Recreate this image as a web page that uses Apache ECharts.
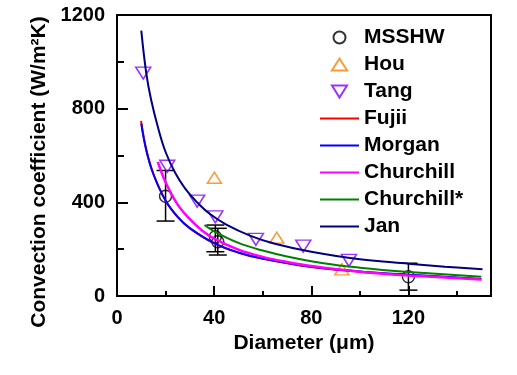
<!DOCTYPE html>
<html>
<head>
<meta charset="utf-8">
<script src="https://cdn.jsdelivr.net/npm/echarts@6/dist/echarts.min.js"></script>
<style>
  html, body { margin: 0; padding: 0; background: #fff; }
</style>
</head>
<body>
<div id="chart" style="width:517px;height:375px"></div>
<script>
// measured points (diameter um, h W/m2K)
var msshwD = [20, 40.5, 41.5, 120];
var msshwH = [426, 253, 232, 82];
var msshwLo = [320, 189, 175, 25];
var msshwHi = [536, 303, 289, 140];

var houD = [40.1, 65.8, 92.6];
var houH = [505, 249, 114];

var tangD = [10.8, 20.7, 33, 40.5, 57.2, 76.7, 95.5];
var tangH = [952, 554, 405, 338, 242, 213, 152];

// correlation curves
var fujiiD = [9.9, 12, 15, 20, 25, 30, 40, 50, 60, 80, 100, 120, 150];
var fujiiH = [748, 628, 521, 407, 337, 289, 225, 185, 159, 124, 104, 90, 72];

var morganD = [10, 12, 15, 20, 25, 30, 40, 50, 60, 80, 100, 120, 150];
var morganH = [736, 625, 520, 408, 338, 290, 226, 186, 160, 125, 105, 91, 73];

var churchillD = [16.8, 20, 25, 30, 35, 40, 50, 60, 70, 80, 100, 120, 150];
var churchillH = [573, 486, 390, 328, 280, 245, 198, 167, 145, 128, 104, 88, 70];

var churchill2D = [36, 40, 50, 60, 70, 85, 100, 120, 150];
var churchill2H = [303, 276, 227, 194, 169, 140, 121, 103, 82];

var janD = [10, 12, 14, 17, 20, 24, 28, 33, 38, 45, 55, 65, 80, 100, 120, 135, 150.5];
var janH = [1133, 955, 840, 715, 615, 525, 460, 400, 352, 305, 257, 223, 189, 157, 138, 125, 114];

var xMajor = [0, 40, 80, 120];
var yMajor = [0, 400, 800, 1200];

function pairs(a, b) {
  return a.map(function (v, i) { return [v, b[i]]; });
}

var font = 'Liberation Sans, Arial, sans-serif';
var chart = echarts.init(document.getElementById('chart'));

function curve(name, color, d, h, w) {
  return {
    name: name,
    type: 'line',
    smooth: 0.4,
    symbol: 'none',
    lineStyle: { color: color, width: w || 2 },
    itemStyle: { color: color },
    data: pairs(d, h)
  };
}

// line entries in the legend: hide the dot, keep the line
function lineItem(name) {
  return { name: name, itemStyle: { opacity: 0 } };
}

var option = {
  animation: false,
  backgroundColor: '#fff',
  textStyle: { fontFamily: font },
  grid: {
    left: 117, right: 26, top: 15, bottom: 79,
    show: true, borderColor: '#000', borderWidth: 2, backgroundColor: 'transparent'
  },
  legend: {
    orient: 'vertical',
    left: 319, top: 27,
    padding: 0,
    itemWidth: 39, itemHeight: 12, itemGap: 6,
    symbolKeepAspect: true,
    textStyle: { fontFamily: font, fontWeight: 'bold', fontSize: 21, color: '#000', lineHeight: 21 },
    data: [
      { name: 'MSSHW', icon: 'circle' },
      { name: 'Hou', icon: 'path://M0,11L7,0L14,11Z' },
      { name: 'Tang', icon: 'path://M0,0L15,0L7.5,12Z' },
      lineItem('Fujii'), lineItem('Morgan'), lineItem('Churchill'), lineItem('Churchill*'), lineItem('Jan')
    ]
  },
  xAxis: [{
    type: 'value',
    min: 0, max: 154, interval: 40,
    name: 'Diameter (μm)',
    nameLocation: 'middle', nameGap: 35,
    nameTextStyle: { fontFamily: font, fontWeight: 'bold', fontSize: 21, color: '#000' },
    axisLine: { lineStyle: { color: '#000', width: 2 } },
    axisTick: { inside: true, length: 10, lineStyle: { color: '#000', width: 2 } },
    axisLabel: {
      margin: 12, fontFamily: font, fontWeight: 'bold', fontSize: 20, color: '#000',
      formatter: function (v) { return xMajor.indexOf(v) >= 0 ? String(v) : ''; }
    },
    splitLine: { show: false }
  }, {
    type: 'value',
    position: 'bottom', offset: 0,
    min: 0, max: 154, interval: 20,
    axisLine: { show: false },
    axisTick: { inside: true, length: 5, lineStyle: { color: '#000', width: 2 } },
    axisLabel: { show: false },
    splitLine: { show: false }
  }],
  yAxis: {
    type: 'value',
    min: 0, max: 1200, interval: 400,
    name: 'Convection coefficient (W/m²K)',
    nameLocation: 'middle', nameGap: 61,
    nameTextStyle: { fontFamily: font, fontWeight: 'bold', fontSize: 21, color: '#000', padding: [0, 33, 0, 0] },
    axisLine: { lineStyle: { color: '#000', width: 2 } },
    axisTick: { inside: true, length: 11, lineStyle: { color: '#000', width: 2 } },
    minorTick: { show: true, splitNumber: 2, length: 7, lineStyle: { color: '#000', width: 2 } },
    axisLabel: {
      margin: 12, fontFamily: font, fontWeight: 'bold', fontSize: 20, color: '#000',
      formatter: function (v) { return yMajor.indexOf(v) >= 0 ? String(v) : ''; }
    },
    splitLine: { show: false }
  },
  series: [
    curve('Fujii', '#ff0000', fujiiD, fujiiH),
    curve('Morgan', '#0000ff', morganD, morganH),
    curve('Churchill', '#ff00ff', churchillD, churchillH, 2.5),
    curve('Churchill*', '#008000', churchill2D, churchill2H),
    curve('Jan', '#000080', janD, janH),
    {
      name: 'err',
      type: 'custom',
      renderItem: function (params, api) {
        var x = api.value(0);
        var lo = api.coord([x, api.value(1)]);
        var hi = api.coord([x, api.value(2)]);
        var st = { stroke: '#000', lineWidth: 1.5 };
        return {
          type: 'group',
          children: [
            { type: 'line', shape: { x1: lo[0], y1: lo[1], x2: hi[0], y2: hi[1] }, style: st },
            { type: 'line', shape: { x1: lo[0] - 9, y1: lo[1], x2: lo[0] + 9, y2: lo[1] }, style: st },
            { type: 'line', shape: { x1: hi[0] - 9, y1: hi[1], x2: hi[0] + 9, y2: hi[1] }, style: st }
          ]
        };
      },
      encode: { x: 0, y: [1, 2] },
      data: msshwD.map(function (d, i) { return [d, msshwLo[i], msshwHi[i]]; })
    },
    {
      name: 'MSSHW',
      type: 'scatter',
      symbol: 'circle',
      symbolSize: 12,
      itemStyle: { color: 'rgba(0,0,0,0)', borderColor: '#000', borderWidth: 1.5 },
      data: pairs(msshwD, msshwH)
    },
    {
      name: 'Hou',
      type: 'scatter',
      symbol: 'triangle',
      symbolSize: [14, 11],
      itemStyle: { color: 'rgba(0,0,0,0)', borderColor: '#ff8000', borderWidth: 1.5 },
      data: pairs(houD, houH)
    },
    {
      name: 'Tang',
      type: 'scatter',
      symbol: 'triangle',
      symbolRotate: 180,
      symbolSize: [15, 12],
      itemStyle: { color: 'rgba(0,0,0,0)', borderColor: '#8000ff', borderWidth: 1.5 },
      data: pairs(tangD, tangH)
    }
  ]
};

chart.setOption(option);
</script>
</body>
</html>
